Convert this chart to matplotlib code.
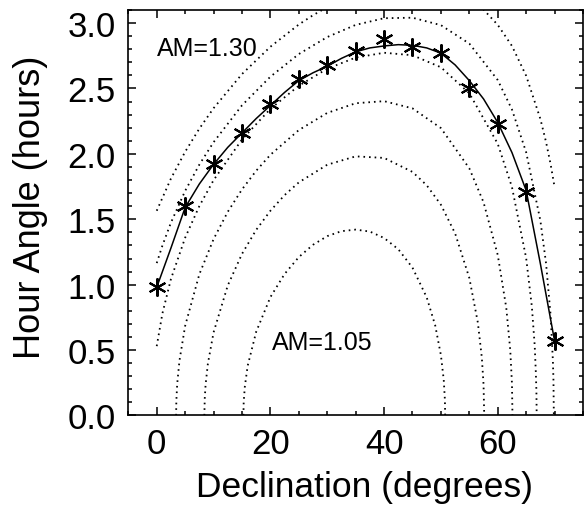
import matplotlib
matplotlib.use("Agg")
import matplotlib.pyplot as plt
from matplotlib.ticker import MultipleLocator, FormatStrFormatter

plt.rcParams['font.family'] = ['Liberation Sans', 'DejaVu Sans']

# measured hour angle limits vs declination
dec = [0, 5, 10, 15, 20, 25, 30, 35, 40, 45, 50, 55, 60, 65, 70]
ha = [0.98, 1.60, 1.925, 2.16, 2.38, 2.575, 2.68, 2.79, 2.88, 2.82, 2.77, 2.50, 2.23, 1.71, 0.57]

# smooth fit through the points
fit_dec = [0, 2.5, 5, 7.5, 10, 12.5, 15, 17.5, 20, 22.5, 25, 27.5, 30, 32.5, 35,
           37.5, 40, 42.5, 45, 47.5, 50, 52.5, 55, 57.5, 60, 62.5, 65, 67.5, 70]
fit_ha = [0.98, 1.28, 1.59, 1.77, 1.92, 2.05, 2.16, 2.27, 2.37, 2.47, 2.56, 2.62, 2.67,
          2.73, 2.78, 2.81, 2.825, 2.835, 2.83, 2.81, 2.77, 2.68, 2.56, 2.42, 2.24,
          2.01, 1.72, 1.16, 0.57]

# airmass contours
am105_dec = [15.25, 15.3, 15.5, 16, 17.5, 20, 22.5, 25, 27.5, 30, 32.5, 35, 37.5, 40,
             42.5, 45, 47.5, 49, 50, 50.5, 50.7, 50.75]
am105_ha = [0, 0.1, 0.22, 0.38, 0.64, 0.905, 1.082, 1.211, 1.305, 1.371, 1.409, 1.421,
            1.406, 1.357, 1.271, 1.130, 0.903, 0.688, 0.461, 0.271, 0.12, 0]

am110_dec = [8.38, 8.45, 8.6, 9, 10, 12.5, 15, 17.5, 20, 22.5, 25, 30, 35, 40, 45, 47.5,
             50, 52.5, 55, 56.5, 57.2, 57.5, 57.62]
am110_ha = [0, 0.13, 0.237, 0.396, 0.635, 0.994, 1.235, 1.419, 1.565, 1.685, 1.782, 1.917,
            1.981, 1.969, 1.862, 1.760, 1.611, 1.392, 1.051, 0.710, 0.442, 0.237, 0]

am115_dec = [3.41, 3.45, 3.6, 4, 5, 7.5, 10, 12.5, 15, 17.5, 20, 25, 30, 35, 40, 45, 50,
             55, 57.5, 60, 61.5, 62.2, 62.5, 62.59]
am115_ha = [0, 0.11, 0.24, 0.419, 0.685, 1.08, 1.348, 1.557, 1.728, 1.871, 1.993, 2.182,
            2.313, 2.387, 2.403, 2.348, 2.197, 1.889, 1.630, 1.227, 0.823, 0.5, 0.244, 0]

am120_dec = [0, 1, 2.5, 5, 7.5, 10, 15, 20, 25, 30, 35, 40, 45, 50, 55, 60, 62.5, 65, 66,
             66.5, 66.7, 66.8, 66.85]
am120_ha = [0.530, 0.780, 1.043, 1.359, 1.601, 1.799, 2.110, 2.344, 2.521, 2.651, 2.736,
            2.773, 2.754, 2.662, 2.463, 2.077, 1.746, 1.203, 0.833, 0.536, 0.33, 0.186, 0]

am125_dec = [0, 1, 2.5, 5, 7.5, 10, 15, 20, 25, 30, 35, 40, 45, 50, 55, 60, 62.5, 65, 67.5,
             68.5, 69.3, 69.7, 69.8, 69.87]
am125_ha = [1.165, 1.299, 1.474, 1.717, 1.918, 2.089, 2.371, 2.590, 2.763, 2.893, 2.986,
            3.037, 3.041, 2.984, 2.843, 2.564, 2.339, 2.012, 1.490, 1.162, 0.766, 0.42,
            0.27, 0]

am130_dec = [0, 2.5, 5, 7.5, 10, 15, 20, 25, 27.5, 30, 35, 40, 45, 50, 55, 57.5, 60, 62.5,
             65, 67.5, 68.5, 69.3, 70]
am130_ha = [1.565, 1.811, 2.016, 2.193, 2.349, 2.610, 2.819, 2.989, 3.060, 3.122, 3.221,
            3.285, 3.311, 3.282, 3.187, 3.103, 2.986, 2.825, 2.597, 2.267, 2.090, 1.921,
            1.745]

contours = [(am105_dec, am105_ha), (am110_dec, am110_ha), (am115_dec, am115_ha),
            (am120_dec, am120_ha), (am125_dec, am125_ha), (am130_dec, am130_ha)]

fig = plt.figure(figsize=(5.84, 5.06), dpi=100)
ax = fig.add_axes([0.2197, 0.1769, 0.7786, 0.8014])

for cd, ch in contours:
    ax.plot(cd, ch, color='black', lw=1.3, linestyle=(0, (0.9, 2.2)))

ax.plot(fit_dec, fit_ha, color='black', lw=1.1)
ax.plot(dec, ha, linestyle='none', marker=(6, 2, 0), markersize=13,
        markeredgewidth=1.5, color='black')

ax.text(0.1, 2.81, 'AM=1.30', fontsize=18, va='center', ha='left')
ax.text(20.2, 0.56, 'AM=1.05', fontsize=18, va='center', ha='left')

ax.set_xlim(-5, 75)
ax.set_ylim(0, 3.1)
ax.xaxis.set_major_locator(MultipleLocator(20))
ax.xaxis.set_minor_locator(MultipleLocator(5))
ax.yaxis.set_major_locator(MultipleLocator(0.5))
ax.yaxis.set_minor_locator(MultipleLocator(0.1))
ax.yaxis.set_major_formatter(FormatStrFormatter('%.1f'))
ax.tick_params(which='both', direction='in', top=True, right=True, width=1.1,
               labelsize=25)
ax.tick_params(which='major', length=5.8)
ax.tick_params(which='minor', length=3.2)
ax.tick_params(axis='y', pad=9)
ax.tick_params(axis='x', pad=8)
for s in ax.spines.values():
    s.set_linewidth(1.2)

ax.set_xlabel('Declination (degrees)', fontsize=25.5)
ax.set_ylabel('Hour Angle (hours)', fontsize=26)
ax.xaxis.set_label_coords(0.52, -0.135)
ax.yaxis.set_label_coords(-0.177, 0.515)

fig.savefig('out.png', dpi=100)
